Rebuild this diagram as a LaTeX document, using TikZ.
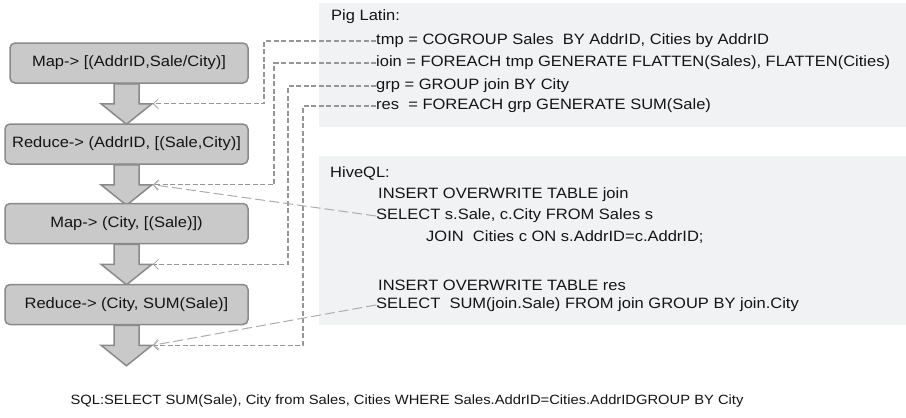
\documentclass[tikz,border=0pt]{standalone}
\usepackage{fontspec}
\setmainfont{Liberation Sans}[FakeStretch=1.1]
\usetikzlibrary{arrows.meta,calc,backgrounds}

\begin{document}
\begin{tikzpicture}[x=1pt,y=-1pt]
    % --- COLOURS ---
    \definecolor{boxGray}{RGB}{201,201,201}
    \definecolor{edgeGray}{RGB}{138,138,138}
    \definecolor{panelGray}{RGB}{241,242,244}
    \definecolor{linkGray}{RGB}{150,150,150}
    \definecolor{hiveGray}{RGB}{172,172,172}
    \definecolor{inkBlack}{RGB}{20,20,20}

    % --- STYLES ---
    \tikzset{
        stageBox/.style={draw=edgeGray, fill=boxGray, line width=1.5pt, rounded corners=5pt, minimum height=40pt, inner sep=0pt, text=inkBlack, font=\fontsize{15}{18}\selectfont},
        panelBox/.style={fill=panelGray, inner sep=0pt, minimum width=587pt},
        codeLine/.style={anchor=west, inner sep=0pt, text=inkBlack, font=\fontsize{15}{18}\selectfont},
        flowArrow/.style={draw=edgeGray, fill=boxGray, line width=1.5pt, line join=miter},
        pigLink/.style={draw=linkGray, line width=1.3pt, dash pattern=on 5pt off 2.5pt, -{Straight Barb[length=5pt,width=10pt,line width=0.7pt]}},
        hiveLink/.style={draw=hiveGray, line width=1pt, dash pattern=on 10pt off 4pt, -{Straight Barb[length=5pt,width=10pt,line width=0.7pt]}}
    }

    \useasboundingbox (0,0) rectangle (906,418);

    % --- PANELS ---
    \node[panelBox, minimum height=124pt] (pig) at (612.5,65) {};
    \node[panelBox, minimum height=169pt] (hive) at (612.5,240.5) {};

    % --- STAGE BOXES ---
    \node[stageBox, minimum width=238pt] (m1) at (129,63) {Map-> [(AddrID,Sale/City)]};
    \node[stageBox, minimum width=243pt] (m2) at (126.5,144) {Reduce-> (AddrID, [(Sale,City)]};
    \node[stageBox, minimum width=243pt] (m3) at (126.5,223.5) {Map-> (City, [(Sale)])};
    \node[stageBox, minimum width=243pt] (m4) at (126.5,304.5) {Reduce-> (City, SUM(Sale)]};

    % --- BLOCK ARROWS ---
    \begin{pgfonlayer}{background}
    \foreach \s/\a in {m1/a1, m2/a2, m3/a3, m4/a4} {
        \draw[flowArrow] ($(\s.south -| m4.south)+(-12.5,0)$) -- ++(25,0) -- ++(0,20) -- ++(13,0)
            -- ++(-25.5,20.5) -- ++(-25.5,-20.5) -- ++(13,0) -- cycle;
        \coordinate (\a) at ($(\s.south -| m4.south)+(26.5,20)$);
    }
    \end{pgfonlayer}

    % --- PIG LATIN ---
    \node[codeLine] (pigT) at (331,17) {Pig Latin:};
    \node[codeLine] (p1) at (376,41) {tmp = COGROUP Sales~ BY AddrID, Cities by AddrID};
    \node[codeLine] (p2) at (376,63) {ioin = FOREACH tmp GENERATE FLATTEN(Sales), FLATTEN(Cities)};
    \node[codeLine] (p3) at (376,86) {grp = GROUP join BY City};
    \node[codeLine] (p4) at (376,106) {res~ = FOREACH grp GENERATE SUM(Sale)};

    % --- HIVEQL ---
    \node[codeLine] (hiveT) at (330,173) {HiveQL:};
    \node[codeLine] (h1) at (378,195) {INSERT OVERWRITE TABLE join};
    \node[codeLine] (h2) at (376,216) {SELECT s.Sale, c.City FROM Sales s};
    \node[codeLine] (h3) at (426,237) {JOIN~ Cities c ON s.AddrID=c.AddrID;};
    \node[codeLine] (h4) at (378,285) {INSERT OVERWRITE TABLE res};
    \node[codeLine] (h5) at (376,305) {SELECT~ SUM(join.Sale) FROM join GROUP BY join.City};

    % --- SQL ---
    \node[codeLine, anchor=center, font=\fontsize{13.4}{16}\selectfont] (sql) at (407,401) {SQL:SELECT SUM(Sale), City from Sales, Cities WHERE Sales.AddrID=Cities.AddrIDGROUP BY City};

    % --- LINKS ---
    \draw[pigLink] (p1.west) -- ++(-112,0) |- (a1);
    \draw[pigLink] (p2.west) -- ++(-102,0) |- (a2);
    \draw[pigLink] (p3.west) -- ++(-88,0) |- (a3);
    \draw[pigLink] (p4.west) -- ++(-73,0) |- (a4);
    \draw[hiveLink] (h2.west) -- (a2);
    \draw[hiveLink] (h5.west) -- (a4);

\end{tikzpicture}
\end{document}
